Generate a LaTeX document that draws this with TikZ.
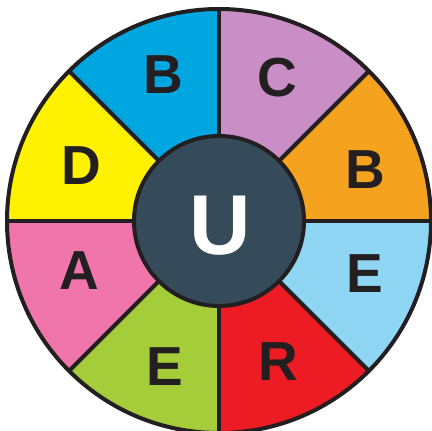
\documentclass[tikz,border=0pt]{standalone}
\usepackage{fontspec}
\setmainfont{Liberation Sans}
\definecolor{cB1}{HTML}{00A6E0}
\definecolor{cC}{HTML}{C98EC5}
\definecolor{cB2}{HTML}{F5A31F}
\definecolor{cE1}{HTML}{8FD6F5}
\definecolor{cR}{HTML}{ED1C24}
\definecolor{cE2}{HTML}{A5CD39}
\definecolor{cA}{HTML}{F075AB}
\definecolor{cD}{HTML}{FFF200}
\definecolor{hub}{HTML}{364B59}
\definecolor{ink}{HTML}{231F20}
\tikzset{
  letter/.style={text=ink,font=\fontsize{55}{55}\selectfont\bfseries,inner sep=0pt},
  hubletter/.style={text=white,font=\fontsize{85}{85}\selectfont\bfseries,inner sep=0pt},
  rim/.style={draw=ink,line width=4pt}
}
\begin{document}
\begin{tikzpicture}[x=1pt,y=1pt]
\useasboundingbox (0,0) rectangle (432,431);
\coordinate (c) at (219,210);
\foreach \a/\col in {0/cB2,45/cC,90/cB1,135/cD,180/cA,225/cE2,270/cR,315/cE1}{
  \fill[\col] (c) -- ++(\a:212) arc[start angle=\a,end angle=\a+45,radius=212] -- cycle;
}
\foreach \a in {0,45,...,315}{
  \draw[rim,line cap=butt] (c) -- ++(\a:212);
}
\draw[rim] (c) circle[radius=212];
\draw[rim,fill=hub] (c) circle[radius=85];
\node[hubletter] (u) at (220,205) {U};
\node[letter] (b1) at (163.5,356) {B};
\node[letter] (cc) at (277,353.5) {C};
\node[letter] (b2) at (365,261.5) {B};
\node[letter] (e1) at (364.5,157.5) {E};
\node[letter] (r) at (278,69) {R};
\node[letter] (e2) at (165,64) {E};
\node[letter] (a) at (79.5,160) {A};
\node[letter] (d) at (81.5,265) {D};
\end{tikzpicture}
\end{document}
